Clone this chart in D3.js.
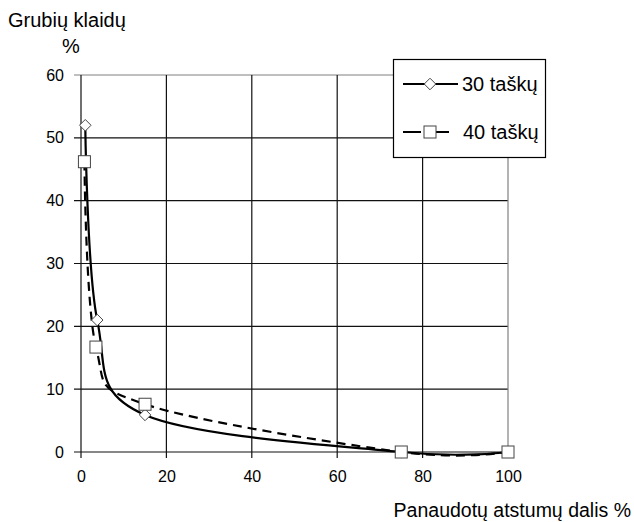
<!DOCTYPE html>
<html>
<head>
<meta charset="utf-8">
<script src="https://cdn.jsdelivr.net/npm/d3@7"></script>
<style>
  body { margin: 0; background: #fff; }
  text { font-family: "Liberation Sans", Arial, sans-serif; fill: #000; }
</style>
</head>
<body>
<svg id="chart"></svg>
<script>
// chart values
const seriesNames = ["30 taškų", "40 taškų"];
const x30 = [1, 3.8, 15, 75, 100];
const y30 = [52, 21, 5.9, 0, 0];
const x40 = [0.8, 3.5, 15, 75, 100];
const y40 = [46.2, 16.7, 7.6, 0, 0];
const xTicks = [0, 20, 40, 60, 80, 100];
const yTicks = [0, 10, 20, 30, 40, 50, 60];
const yTitle = ["Grubių klaidų", "%"];
const xTitle = "Panaudotų atstumų dalis %";

const canvas = { width: 634, height: 522 };
const plot = { left: 81, right: 508, top: 75, bottom: 452 };

const svg = d3.select("#chart")
  .attr("width", canvas.width)
  .attr("height", canvas.height);

svg.append("rect")
  .attr("width", canvas.width)
  .attr("height", canvas.height)
  .attr("fill", "#fff");

const xScale = d3.scaleLinear().domain([0, 100]).range([plot.left, plot.right]);
const yScale = d3.scaleLinear().domain([0, 60]).range([plot.bottom, plot.top]);

// grid lines
const grid = svg.append("g");
grid.selectAll(".hgrid")
  .data(yTicks)
  .enter()
  .append("line")
  .attr("x1", plot.left - 7)
  .attr("x2", plot.right)
  .attr("y1", (d) => yScale(d))
  .attr("y2", (d) => yScale(d))
  .attr("stroke", (d) => (d === 60 ? "#808080" : "#111"))
  .attr("stroke-width", 1.2);

grid.selectAll(".vgrid")
  .data(xTicks)
  .enter()
  .append("line")
  .attr("x1", (d) => xScale(d))
  .attr("x2", (d) => xScale(d))
  .attr("y1", plot.top)
  .attr("y2", plot.bottom + 6)
  .attr("stroke", (d) => (d === 100 ? "#808080" : "#111"))
  .attr("stroke-width", 1.2);

// tick labels
const yAxis = d3.axisLeft(yScale).tickValues(yTicks).tickSize(0).tickPadding(17);
const yG = svg.append("g")
  .attr("transform", `translate(${plot.left},0)`)
  .call(yAxis);
yG.select(".domain").remove();
yG.selectAll("text")
  .style("font-size", "16px")
  .attr("font-family", "Liberation Sans, Arial, sans-serif");

const xAxis = d3.axisBottom(xScale).tickValues(xTicks).tickSize(0).tickPadding(19);
const xG = svg.append("g")
  .attr("transform", `translate(0,${plot.bottom})`)
  .call(xAxis);
xG.select(".domain").remove();
xG.selectAll("text")
  .style("font-size", "16px")
  .attr("font-family", "Liberation Sans, Arial, sans-serif");

// lines
const lineGen = d3.line()
  .x((d) => xScale(d[0]))
  .y((d) => yScale(d[1]))
  .curve(d3.curveCardinal.tension(0));

const pts30 = x30.map((x, i) => [x, y30[i]]);
const pts40 = x40.map((x, i) => [x, y40[i]]);

svg.append("path")
  .attr("d", lineGen(pts40))
  .attr("fill", "none")
  .attr("stroke", "#000")
  .attr("stroke-width", 2.2)
  .attr("stroke-dasharray", "9,6");

svg.append("path")
  .attr("d", lineGen(pts30))
  .attr("fill", "none")
  .attr("stroke", "#000")
  .attr("stroke-width", 2.2);

const diamond = d3.symbol().type(d3.symbolDiamond2).size(85);

svg.selectAll(".m30")
  .data(pts30)
  .enter()
  .append("path")
  .attr("d", diamond)
  .attr("transform", (d) => `translate(${xScale(d[0])},${yScale(d[1])})`)
  .attr("fill", "#fff")
  .attr("stroke", "#444")
  .attr("stroke-width", 1);

svg.selectAll(".m40")
  .data(pts40)
  .enter()
  .append("rect")
  .attr("x", (d) => xScale(d[0]) - 6)
  .attr("y", (d) => yScale(d[1]) - 6)
  .attr("width", 12)
  .attr("height", 12)
  .attr("fill", "#fff")
  .attr("stroke", "#444")
  .attr("stroke-width", 1);

// legend
const legend = svg.append("g");
legend.append("rect")
  .attr("x", 393.5)
  .attr("y", 59.5)
  .attr("width", 152)
  .attr("height", 98)
  .attr("fill", "#fff")
  .attr("stroke", "#000")
  .attr("stroke-width", 1.2);

legend.append("line")
  .attr("x1", 403).attr("x2", 458)
  .attr("y1", 84).attr("y2", 84)
  .attr("stroke", "#000").attr("stroke-width", 2.2);
legend.append("path")
  .attr("d", diamond)
  .attr("transform", "translate(430,84)")
  .attr("fill", "#fff").attr("stroke", "#444");
legend.append("text")
  .attr("x", 462).attr("y", 91)
  .style("font-size", "20px")
  .text(seriesNames[0]);

legend.append("line")
  .attr("x1", 403).attr("x2", 449)
  .attr("y1", 132).attr("y2", 132)
  .attr("stroke", "#000").attr("stroke-width", 2.2)
  .attr("stroke-dasharray", "18,10");
legend.append("rect")
  .attr("x", 424).attr("y", 126)
  .attr("width", 12).attr("height", 12)
  .attr("fill", "#fff").attr("stroke", "#444");
legend.append("text")
  .attr("x", 463).attr("y", 139)
  .style("font-size", "20px")
  .text(seriesNames[1]);

// titles
svg.append("text")
  .attr("x", 8).attr("y", 27)
  .style("font-size", "20px")
  .text(yTitle[0]);
svg.append("text")
  .attr("x", 62).attr("y", 53)
  .style("font-size", "20px")
  .text(yTitle[1]);
svg.append("text")
  .attr("x", 631).attr("y", 517)
  .attr("text-anchor", "end")
  .style("font-size", "19.5px")
  .text(xTitle);
</script>
</body>
</html>
